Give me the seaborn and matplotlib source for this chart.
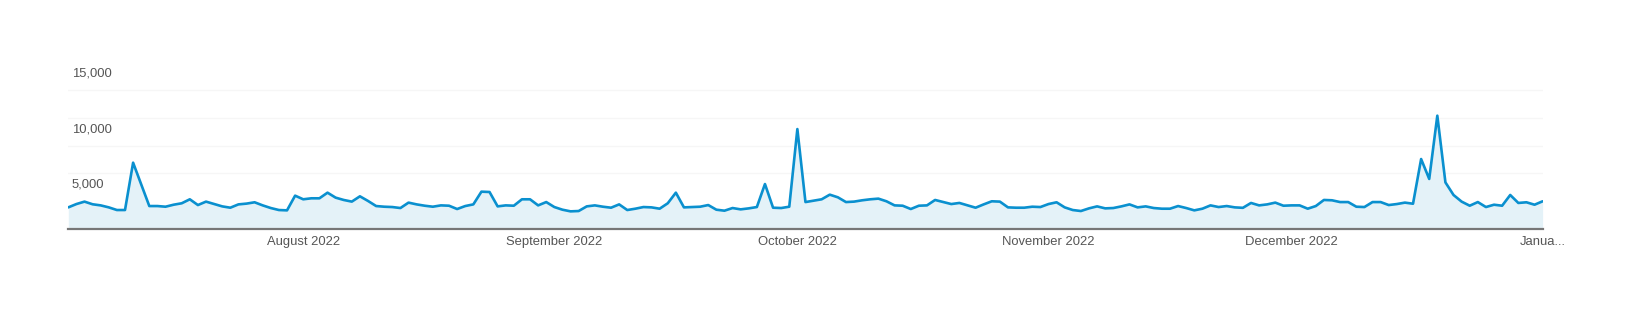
import numpy as np
import pandas as pd
import matplotlib
matplotlib.use("Agg")
import matplotlib.pyplot as plt
import matplotlib.transforms as mtransforms
import seaborn as sns

# ---- data (daily values) ----
start_date = "2022-07-03"
visits_jul = [1920, 2220, 2440, 2200, 2100, 1920, 1680, 1680, 5960, 4000,
              2040, 2040, 1980, 2160, 2290, 2650, 2130, 2440, 2220, 2010,
              1890, 2190, 2260, 2380, 2100, 1860, 1680, 1650, 2980]
visits_aug = [2650, 2740, 2740, 3250, 2800, 2590, 2440, 2920, 2500, 2040,
              1980, 1950, 1860, 2350, 2190, 2070, 1980, 2100, 2070, 1770,
              2040, 2190, 3340, 3310, 2010, 2100, 2070, 2650, 2650, 2100,
              2400]
visits_sep = [1950, 1710, 1560, 1590, 2010, 2100, 1980, 1890, 2190, 1680,
              1800, 1950, 1920, 1800, 2290, 3250, 1920, 1950, 1980, 2130,
              1710, 1620, 1860, 1740, 1830, 1950, 4030, 1890, 1860, 1980]
visits_oct = [9000, 2400, 2530, 2650, 3070, 2830, 2400, 2440, 2560, 2650,
              2710, 2470, 2100, 2070, 1770, 2070, 2100, 2590, 2400, 2220,
              2320, 2100, 1890, 2190, 2470, 2440, 1920, 1890, 1890, 1980,
              1950]
visits_nov = [2220, 2380, 1920, 1680, 1590, 1830, 2010, 1830, 1860, 2010,
              2190, 1920, 2010, 1860, 1800, 1800, 2040, 1860, 1650, 1800,
              2100, 1950, 2040, 1920, 1880, 2320, 2100, 2190, 2350, 2070]
visits_dec = [2100, 2100, 1800, 2040, 2590, 2560, 2400, 2400, 1980, 1950,
              2400, 2400, 2130, 2220, 2350, 2250, 6290, 4490, 10210, 4180,
              3040, 2440, 2070, 2400, 1950, 2160, 2070, 3040, 2320, 2380,
              2160]
visits_jan = [2470]

month_ticks = ["2022-08-01", "2022-09-01", "2022-10-01", "2022-11-01",
               "2022-12-01", "2023-01-01"]
month_labels = ["August 2022", "September 2022", "October 2022",
                "November 2022", "December 2022", "Janua..."]
y_label_values = [5000, 10000, 15000]
y_label_texts = ["5,000", "10,000", "15,000"]
grid_values = [5000, 7500, 10000, 12500]

visits = (visits_jul + visits_aug + visits_sep + visits_oct + visits_nov
          + visits_dec + visits_jan)
dates = pd.date_range(start_date, periods=len(visits), freq="D")
df = pd.DataFrame({"date": dates, "visits": visits})

# ---- style ----
sns.set_theme(style="white")
plt.rcParams["font.family"] = ["Liberation Sans", "DejaVu Sans"]

line_color = "#0a90cf"
fill_color = "#e4f2f8"
text_color = "#555555"

fig = plt.figure(figsize=(16.3, 3.18), dpi=100)
ax = fig.add_axes([0.0419, 0.2811, 0.9045, 0.5217])

ax.fill_between(df["date"], df["visits"], 0, color=fill_color, lw=0, zorder=1)
sns.lineplot(data=df, x="date", y="visits", ax=ax, color=line_color,
             lw=1.9, zorder=3)

ax.set_xlim(dates[0], dates[-1])
ax.set_ylim(0, 15000)

# gridlines
ax.set_yticks(grid_values)
ax.set_yticklabels([])
ax.tick_params(axis="y", length=0)
ax.yaxis.grid(True, color="#f6f6f6", lw=1)
ax.xaxis.grid(False)
ax.set_axisbelow(True)

# x ticks
ax.set_xticks(pd.to_datetime(month_ticks))
ax.set_xticklabels(month_labels, fontsize=9.4, color=text_color)
ax.tick_params(axis="x", length=0, pad=5)
ax.set_xlabel("")
ax.set_ylabel("")

# y labels inside the plot, just below their value lines
trans = mtransforms.offset_copy(ax.get_yaxis_transform(), fig=fig,
                                x=3.4, y=-11, units="dots")
for v, t in zip(y_label_values, y_label_texts):
    ax.text(0, v, t, transform=trans, ha="left", va="center",
            fontsize=9.4, color=text_color)

for side in ["top", "left", "right"]:
    ax.spines[side].set_visible(False)
ax.spines["bottom"].set_color("#777777")
ax.spines["bottom"].set_linewidth(1.6)
ax.spines["bottom"].set_zorder(4)

fig.savefig("out.png", dpi=100)
